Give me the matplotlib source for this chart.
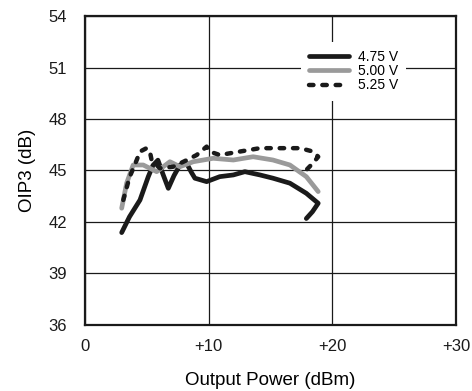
import numpy as np
import matplotlib
matplotlib.use("Agg")
import matplotlib.pyplot as plt

plt.rcParams['font.family'] = ['Liberation Sans', 'DejaVu Sans']

# 4.75 V
x_475 = [2.97, 3.6, 4.45, 5.12, 5.5, 5.9, 6.3, 6.74, 7.2, 7.68, 8.22, 8.6, 8.89,
         9.84, 10.9, 12.0, 12.93, 14.15, 15.2, 16.57, 17.9, 18.86, 18.4, 17.9]
y_475 = [41.38, 42.3, 43.28, 44.64, 45.3, 45.6, 44.8, 43.96, 44.7, 45.32, 45.42, 44.9, 44.55,
         44.35, 44.64, 44.74, 44.93, 44.74, 44.55, 44.26, 43.67, 43.09, 42.6, 42.2]
# 5.00 V
x_500 = [2.97, 3.37, 3.9, 4.71, 5.8, 6.87, 7.68, 8.76, 10.37, 12.0, 13.6, 15.2, 16.57, 17.9, 18.86]
y_500 = [42.8, 44.26, 45.32, 45.32, 44.93, 45.51, 45.22, 45.51, 45.71, 45.61, 45.8, 45.61, 45.32, 44.64, 43.77]
# 5.25 V
x_525 = [3.1, 3.6, 4.18, 4.45, 4.98, 5.25, 5.39, 6.06, 7.14, 8.22, 9.03, 9.84, 10.1,
         10.9, 12.5, 14.15, 15.76, 17.4, 18.46, 18.86, 18.4, 17.9]
y_525 = [43.28, 44.6, 45.6, 46.1, 46.3, 46.1, 45.6, 45.13, 45.22, 45.6, 45.9, 46.39, 46.1,
         45.9, 46.1, 46.3, 46.3, 46.3, 46.1, 45.8, 45.4, 45.03]

x_ticks = [0, 10, 20, 30]
x_labels = ['0', '+10', '+20', '+30']
y_ticks = [36, 39, 42, 45, 48, 51, 54]

fig = plt.figure(figsize=(4.72, 3.91), dpi=100)
ax = fig.add_axes([0.180, 0.169, 0.786, 0.790])

ax.plot(x_475, y_475, color='#1a1a1a', lw=3.4, solid_joinstyle='round', solid_capstyle='round', label='4.75 V')
ax.plot(x_500, y_500, color='#9a9a9a', lw=3.4, solid_joinstyle='round', solid_capstyle='round', label='5.00 V')
ax.plot(x_525, y_525, color='#1a1a1a', lw=3.2, ls=(0, (1.0, 2.0)), dash_capstyle='round', label='5.25 V')

ax.set_xlim(0, 30)
ax.set_ylim(36, 54)
ax.set_xticks(x_ticks)
ax.set_xticklabels(x_labels)
ax.set_yticks(y_ticks)
ax.grid(True, color='#1a1a1a', lw=0.9)
ax.set_axisbelow(True)
ax.tick_params(length=0, labelsize=12, colors='#1a1a1a')
ax.tick_params(axis='y', pad=13)
ax.tick_params(axis='x', pad=10)
for s in ax.spines.values():
    s.set_linewidth(1.6)
    s.set_color('#1a1a1a')

ax.set_xlabel('Output Power (dBm)', fontsize=13.5, labelpad=13)
ax.set_ylabel('OIP3 (dB)', fontsize=13.5, labelpad=9)

leg = ax.legend(loc='upper right', bbox_to_anchor=(0.885, 0.94), fontsize=10, handlelength=2.9,
                labelspacing=0.02, handletextpad=0.6, borderpad=0.6,
                frameon=True, edgecolor='none', facecolor='white', framealpha=1, fancybox=False)

fig.savefig('out.png', dpi=100)
